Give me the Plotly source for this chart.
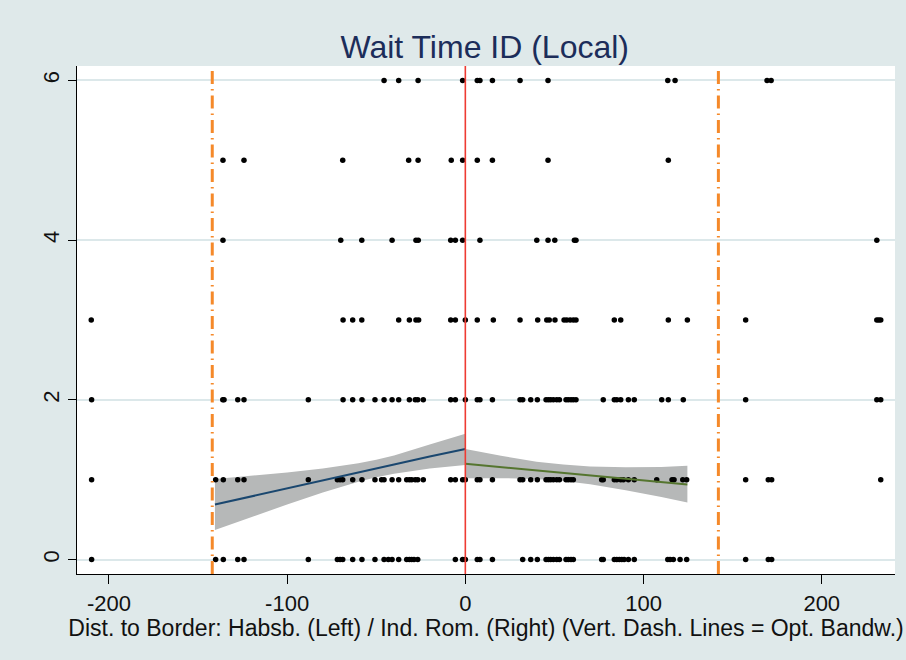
import plotly.graph_objects as go

# ---------------- data ----------------
title_text = "Wait Time ID (Local)"
x_title = "Dist. to Border: Habsb. (Left) / Ind. Rom. (Right) (Vert. Dash. Lines = Opt. Bandw.)"

cutoff = 0
bandwidth = 142

x_wait6 = [-45.6, -37.4, -26.5, -1.5, 6.7, 8.2, 15.2, 30.7, 46.4, 113.6, 117.7, 169.3, 171.6]
x_wait5 = [-136.0, -124.2, -68.8, -31.8, -26.5, -7.9, -1.5, 6.7, 15.2, 46.4, 113.9]
x_wait4 = [-136.0, -69.9, -58.1, -41.1, -27.7, -26.4, -8.2, -5.6, -1.5, 8.2, 40.1, 46.4,
           50.2, 61.2, 62.1, 230.9]
x_wait3 = [-209.9, -68.6, -63.2, -58.1, -37.4, -31.4, -27.7, -26.2, -8.2, -5.6, 0.0, 6.7,
           15.7, 30.7, 40.6, 45.7, 47.1, 50.3, 55.4, 56.9, 58.8, 60.6, 62.1, 83.6, 87.2,
           113.9, 124.6, 157.3, 230.9, 232.0, 233.1]
x_wait2 = [-209.7, -136.1, -135.4, -127.7, -124.2, -88.1, -68.6, -63.2, -58.0, -50.7, -45.6,
           -41.1, -37.4, -31.4, -28.1, -26.7, -23.6, -8.2, -5.6, 0.0, 6.7, 8.2, 15.2, 30.7,
           32.2, 36.7, 40.4, 45.3, 46.6, 47.9, 49.4, 51.3, 52.8, 56.5, 57.8, 59.3, 60.6, 62.1,
           77.4, 83.6, 85.0, 87.2, 91.5, 94.8, 110.2, 113.9, 122.3, 157.3, 230.9, 233.1]
x_wait1 = [-209.7, -140.1, -135.8, -127.7, -124.2, -88.1, -71.8, -70.3, -68.8, -63.2, -58.0,
           -50.7, -47.0, -45.6, -41.1, -37.4, -32.9, -31.4, -30.1, -28.1, -26.7, -23.6, -8.2,
           -5.6, -1.5, 0.0, 6.7, 8.2, 15.2, 30.7, 32.2, 36.7, 40.4, 45.3, 46.6, 47.9, 49.4,
           51.3, 52.8, 56.5, 57.8, 59.3, 60.6, 76.5, 77.4, 83.6, 85.0, 87.2, 88.7, 91.5, 94.8,
           107.4, 116.0, 117.1, 122.0, 124.2, 157.3, 170.0, 171.9, 233.1]
x_wait0 = [-209.7, -140.1, -135.8, -127.7, -124.2, -88.1, -71.8, -70.3, -68.8, -63.2, -58.0,
           -50.7, -45.6, -43.2, -41.1, -37.4, -32.9, -31.4, -30.1, -28.8, -26.7, -5.6, -1.5,
           0.0, 6.7, 8.2, 15.2, 32.2, 36.7, 40.4, 45.3, 46.6, 47.9, 49.4, 51.3, 52.8, 56.5,
           57.8, 59.3, 60.6, 76.5, 77.4, 83.6, 85.0, 86.4, 87.8, 89.1, 91.5, 94.8, 113.6, 114.9,
           116.7, 120.5, 124.2, 157.3, 170.0, 171.9]

rows = {0: x_wait0, 1: x_wait1, 2: x_wait2, 3: x_wait3, 4: x_wait4, 5: x_wait5, 6: x_wait6}

# linear fits with confidence bands (left / right of the border)
fit_left_x = [-140.5, -120, -100, -80, -60, -50, -40, -20, 0]
fit_left_y = [0.69, 0.79, 0.89, 0.99, 1.09, 1.14, 1.19, 1.29, 1.385]
fit_left_hi = [1.01, 1.05, 1.09, 1.14, 1.205, 1.25, 1.305, 1.44, 1.575]
fit_left_lo = [0.37, 0.53, 0.69, 0.84, 0.975, 1.03, 1.075, 1.14, 1.185]

fit_right_x = [0, 20, 40, 55, 70, 90, 110, 124.6]
fit_right_y = [1.20, 1.158, 1.116, 1.085, 1.054, 1.012, 0.970, 0.94]
fit_right_hi = [1.385, 1.30, 1.225, 1.19, 1.165, 1.155, 1.16, 1.175]
fit_right_lo = [1.02, 1.02, 1.01, 0.985, 0.945, 0.87, 0.785, 0.715]

x_ticks = [-200, -100, 0, 100, 200]
x_tick_labels = ["-200", "-100", "0", "100", "200"]
y_ticks = [0, 2, 4, 6]
y_tick_labels = ["0", "2", "4", "6"]

# ---------------- figure ----------------
FONT = "Liberation Sans, Arial, sans-serif"
band_col = "#b6b8b8"

fig = go.Figure()

for fx, hi, lo in [(fit_left_x, fit_left_hi, fit_left_lo), (fit_right_x, fit_right_hi, fit_right_lo)]:
    fig.add_trace(go.Scatter(x=fx + fx[::-1], y=hi + lo[::-1], fill="toself",
                             fillcolor=band_col, line=dict(width=0), mode="lines",
                             hoverinfo="skip", showlegend=False))

xs, ys = [], []
for yv, xl in rows.items():
    xs += xl
    ys += [yv] * len(xl)
fig.add_trace(go.Scatter(x=xs, y=ys, mode="markers",
                         marker=dict(color="black", size=5.5), showlegend=False))

fig.add_trace(go.Scatter(x=fit_left_x, y=fit_left_y, mode="lines",
                         line=dict(color="#1a476f", width=2), showlegend=False))
fig.add_trace(go.Scatter(x=fit_right_x, y=fit_right_y, mode="lines",
                         line=dict(color="#55752f", width=2), showlegend=False))

fig.add_shape(type="line", xref="x", yref="paper", x0=cutoff, x1=cutoff, y0=0, y1=1,
              line=dict(color="#ee3b33", width=1.6), layer="above")
for bx in (-bandwidth, bandwidth):
    fig.add_shape(type="line", xref="x", yref="paper", x0=bx, x1=bx, y0=0, y1=1,
                  line=dict(color="#f5892a", width=3, dash="13px,5px,1.5px,5px"), layer="above")

fig.update_layout(
    width=906, height=660,
    margin=dict(l=77, r=11, t=66, b=86),
    paper_bgcolor="#dfe9ea", plot_bgcolor="white",
    font=dict(family=FONT, color="#111111"),
    title=dict(text=title_text, x=0.535, xanchor="center", y=1 - 47 / 660, yanchor="middle",
               yref="container", font=dict(size=32, color="#1c2d5a", family=FONT)),
    showlegend=False,
)
fig.update_xaxes(range=[-217.9, 241.1], tickvals=x_ticks, ticktext=x_tick_labels,
                 ticks="outside", ticklen=9,
                 tickcolor="black", showline=True, linecolor="black", linewidth=1.2,
                 showgrid=False, zeroline=False, tickfont=dict(size=22, color="#111111"),
                 title=dict(text=x_title, font=dict(size=23, color="#111111"), standoff=0))
fig.update_yaxes(range=[-0.18, 6.18], tickvals=y_ticks, ticktext=y_tick_labels,
                 ticks="outside", ticklen=8,
                 tickcolor="black", showline=True, linecolor="black", linewidth=1.2,
                 showgrid=True, gridcolor="#dce8ea", gridwidth=1.5, zeroline=False,
                 tickangle=-90, tickfont=dict(size=22, color="#111111"))

fig.write_html("out.html")
